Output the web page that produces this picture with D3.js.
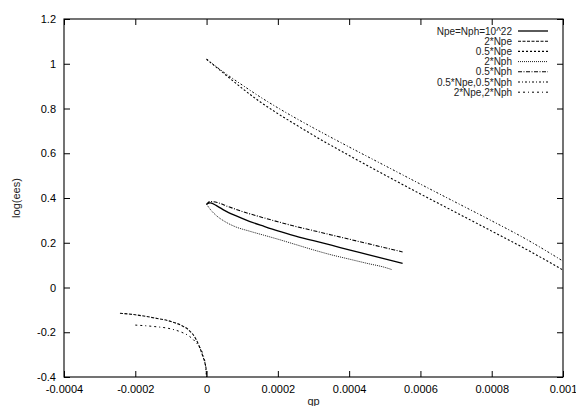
<!DOCTYPE html>
<html>
<head>
<meta charset="utf-8">
<script src="https://cdn.jsdelivr.net/npm/d3@7"></script>
<style>
  body { margin: 0; background: #fff; }
  text { font-family: "Liberation Sans", Arial, sans-serif; font-size: 11px; fill: #000; }
</style>
</head>
<body>
<div id="chart"></div>
<script>
// data: [qp, log(ees)]
const base = [[0, 0.372], [0.00001, 0.378], [0.00003, 0.364], [0.00005, 0.345], [0.00008, 0.322], [0.00012, 0.296], [0.00016, 0.274], [0.0002, 0.253], [0.00025, 0.23], [0.0003, 0.209], [0.00035, 0.189], [0.0004, 0.168], [0.00045, 0.148], [0.0005, 0.128], [0.00055, 0.108]];
const twoNpe = [[-0.000243, -0.115], [-0.0002, -0.122], [-0.00015, -0.135], [-0.0001, -0.152], [-0.00007, -0.17], [-0.00005, -0.19], [-0.00003, -0.23], [-0.00002, -0.265], [-0.00001, -0.31], [-0.000005, -0.335], [-0.000001, -0.37], [0, -0.4]];
const halfNpe = [[0, 1.02], [0.00005, 0.955], [0.0001, 0.89], [0.00015, 0.83], [0.0002, 0.777], [0.00025, 0.728], [0.0003, 0.68], [0.0004, 0.59], [0.0005, 0.503], [0.0006, 0.418], [0.0007, 0.335], [0.0008, 0.252], [0.0009, 0.168], [0.001, 0.078]];
const twoNph = [[0, 0.372], [0.00001, 0.35], [0.00003, 0.318], [0.00005, 0.296], [0.00008, 0.272], [0.00012, 0.252], [0.00016, 0.234], [0.0002, 0.216], [0.00025, 0.192], [0.0003, 0.168], [0.00035, 0.146], [0.0004, 0.127], [0.00045, 0.108], [0.0005, 0.09], [0.00052, 0.08]];
const halfNph = [[0, 0.372], [0.00001, 0.384], [0.00003, 0.38], [0.00006, 0.362], [0.0001, 0.34], [0.00015, 0.316], [0.0002, 0.294], [0.00025, 0.273], [0.0003, 0.254], [0.00035, 0.235], [0.0004, 0.216], [0.00045, 0.197], [0.0005, 0.178], [0.00055, 0.159]];
const halfBoth = [[0, 1.02], [0.00005, 0.96], [0.0001, 0.905], [0.00015, 0.852], [0.0002, 0.803], [0.00025, 0.757], [0.0003, 0.713], [0.0004, 0.628], [0.0005, 0.545], [0.0006, 0.462], [0.0007, 0.38], [0.0008, 0.298], [0.0009, 0.213], [0.001, 0.118]];
const twoBoth = [[-0.0002, -0.168], [-0.00015, -0.174], [-0.0001, -0.185], [-0.00007, -0.2], [-0.00005, -0.216], [-0.00003, -0.245], [-0.00002, -0.265], [-0.00001, -0.3], [-0.000003, -0.35], [0, -0.4]];

const seriesNames = ['Npe=Nph=10^22', '2*Npe', '0.5*Npe', '2*Nph', '0.5*Nph', '0.5*Npe,0.5*Nph', '2*Npe,2*Nph'];
const seriesData = [base, twoNpe, halfNpe, twoNph, halfNph, halfBoth, twoBoth];

const xTicks = [-0.0004, -0.0002, 0, 0.0002, 0.0004, 0.0006, 0.0008, 0.001];
const yTicks = [-0.4, -0.2, 0, 0.2, 0.4, 0.6, 0.8, 1, 1.2];

// line styles, gnuplot-ish
const styles = [
  {dash: null, width: 1.3},
  {dash: '3,1.5', width: 1.1},
  {dash: '2,2', width: 1.1},
  {dash: '1,1', width: 0.9},
  {dash: '4,1.5,1,1.5', width: 1.1},
  {dash: '2,2,1,2', width: 1},
  {dash: '2,3,2,3,1,3', width: 1}
];

const width = 576, height = 406;
const margin = {top: 19, right: 13, bottom: 29, left: 64};

const svg = d3.select('#chart').append('svg')
  .attr('width', width)
  .attr('height', height);

const x = d3.scaleLinear().domain([-0.0004, 0.001]).range([margin.left, width - margin.right]);
const y = d3.scaleLinear().domain([-0.4, 1.2]).range([height - margin.bottom, margin.top]);

const fmt = d => String(+d.toPrecision(6));

// axes with inward ticks, mirrored on top/right
svg.append('g')
  .attr('transform', 'translate(0,' + y.range()[0] + ')')
  .call(d3.axisBottom(x).tickValues(xTicks).tickFormat(fmt).tickSizeInner(-6).tickSizeOuter(0).tickPadding(8))
  .call(g => g.select('.domain').remove());

svg.append('g')
  .attr('transform', 'translate(0,' + y.range()[1] + ')')
  .call(d3.axisTop(x).tickValues(xTicks).tickFormat('').tickSizeInner(-6).tickSizeOuter(0))
  .call(g => g.select('.domain').remove());

svg.append('g')
  .attr('transform', 'translate(' + x.range()[0] + ',0)')
  .call(d3.axisLeft(y).tickValues(yTicks).tickFormat(fmt).tickSizeInner(-6).tickSizeOuter(0).tickPadding(8))
  .call(g => g.select('.domain').remove());

svg.append('g')
  .attr('transform', 'translate(' + x.range()[1] + ',0)')
  .call(d3.axisRight(y).tickValues(yTicks).tickFormat('').tickSizeInner(-6).tickSizeOuter(0))
  .call(g => g.select('.domain').remove());

svg.selectAll('.tick line').attr('stroke', '#000');
svg.selectAll('.tick text')
  .style('font-family', '"Liberation Sans", Arial, sans-serif')
  .style('font-size', '11px')
  .attr('fill', '#222');

// frame
svg.append('rect')
  .attr('x', x.range()[0])
  .attr('y', y.range()[1])
  .attr('width', x.range()[1] - x.range()[0])
  .attr('height', y.range()[0] - y.range()[1])
  .attr('fill', 'none')
  .attr('stroke', '#000')
  .attr('stroke-width', 1.1);

// axis titles
svg.append('text')
  .attr('x', (x.range()[0] + x.range()[1]) / 2)
  .attr('y', 405)
  .attr('text-anchor', 'middle')
  .style('fill', '#222')
  .text('qp');

svg.append('text')
  .attr('transform', 'translate(20,' + ((y.range()[0] + y.range()[1]) / 2) + ') rotate(-90)')
  .attr('text-anchor', 'middle')
  .style('fill', '#222')
  .text('log(ees)');

// curves
const line = d3.line()
  .x(d => x(d[0]))
  .y(d => y(d[1]))
  .curve(d3.curveMonotoneX);

svg.append('g')
  .attr('class', 'lines')
  .selectAll('path')
  .data(seriesData)
  .enter().append('path')
    .attr('d', d => line(d))
    .attr('fill', 'none')
    .attr('stroke', '#000')
    .attr('stroke-width', (d, i) => styles[i].width)
    .attr('stroke-dasharray', (d, i) => styles[i].dash);

// legend
const legend = svg.append('g')
  .attr('class', 'legend')
  .attr('transform', 'translate(512,31)');

const rows = legend.selectAll('g')
  .data(seriesNames)
  .enter().append('g')
    .attr('transform', (d, i) => 'translate(0,' + i * 10.2 + ')');

rows.append('text')
  .attr('text-anchor', 'end')
  .attr('dy', '0.35em')
  .style('font-size', '10px')
  .style('fill', '#222')
  .text(d => d);

rows.append('line')
  .attr('x1', 6)
  .attr('x2', 36)
  .attr('stroke', '#000')
  .attr('stroke-width', (d, i) => styles[i].width)
  .attr('stroke-dasharray', (d, i) => styles[i].dash);
</script>
</body>
</html>
